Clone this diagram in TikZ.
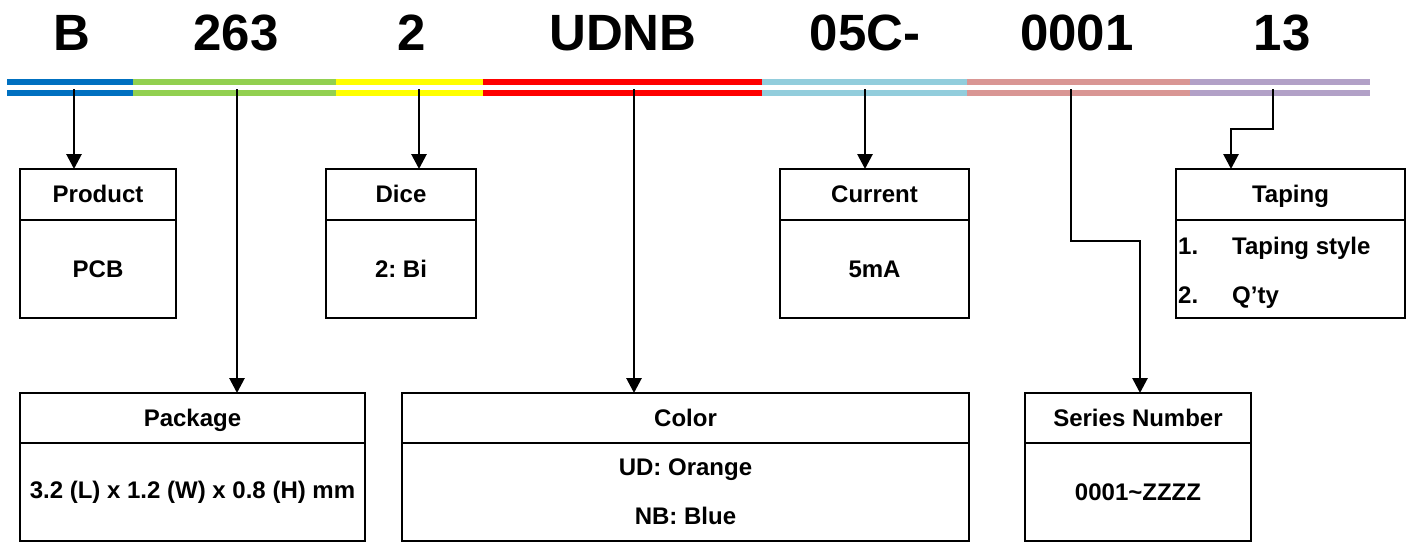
\documentclass[tikz,border=0pt]{standalone}
\usepackage{fontspec}
\setmainfont{Liberation Sans}
\usetikzlibrary{arrows.meta, positioning}

\definecolor{barblue}{HTML}{0070C0}
\definecolor{bargreen}{HTML}{92D050}
\definecolor{baryellow}{HTML}{FFFF00}
\definecolor{barred}{HTML}{FF0000}
\definecolor{barcyan}{HTML}{92CDDC}
\definecolor{barpink}{HTML}{D99694}
\definecolor{barpurple}{HTML}{B2A1C7}
\frenchspacing

\begin{document}
\begin{tikzpicture}[
    x=1pt, y=-1pt,
    >={Triangle[width=15pt,length=15pt]},
    font=\bfseries
  ]

  % Styles
  \tikzstyle{code}=[anchor=base, inner sep=0pt, font=\fontsize{51}{60}\selectfont\bfseries]
  \tikzstyle{head}=[draw, line width=2.8pt, outer sep=0pt, minimum height=51pt, text height=18pt, text depth=2pt, font=\fontsize{24}{28}\selectfont\bfseries]
  \tikzstyle{body}=[draw, line width=2.8pt, outer sep=0pt, minimum height=98pt, align=center, font=\fontsize{24}{49}\selectfont\bfseries]
  \tikzstyle{item}=[anchor=base west, inner sep=0pt, font=\fontsize{24}{28}\selectfont\bfseries]
  \tikzstyle{bar}=[line width=6pt]
  \tikzstyle{link}=[line width=2.8pt, ->]

  \useasboundingbox (0,0) rectangle (1410,542);

  % Part number
  \node[code] (codeB) at (72,50) {B};
  \node[code] (code263) at (236,50) {263};
  \node[code] (code2) at (412,50) {2};
  \node[code] (codeUDNB) at (623,50) {UDNB};
  \node[code] (code05C) at (865,50) {05C-};
  \node[code] (code0001) at (1077,50) {0001};
  \node[code] (code13) at (1282,50) {13};

  % Colour bars
  \foreach \y in {82,93} {
    \draw[bar, barblue] (7,\y) -- (133,\y);
    \draw[bar, bargreen] (133,\y) -- (336,\y);
    \draw[bar, baryellow] (336,\y) -- (483,\y);
    \draw[bar, barred] (483,\y) -- (762,\y);
    \draw[bar, barcyan] (762,\y) -- (967,\y);
    \draw[bar, barpink] (967,\y) -- (1190,\y);
    \draw[bar, barpurple] (1190,\y) -- (1370,\y);
  }

  % Taps on the bar
  \coordinate (tapB) at (74,89);
  \coordinate (tap263) at (237,89);
  \coordinate (tap2) at (419,89);
  \coordinate (tapUDNB) at (634,89);
  \coordinate (tap05C) at (865,89);
  \coordinate (tap0001) at (1071,89);
  \coordinate (tap13) at (1273,89);

  % Upper boxes
  \node[head, minimum width=156pt, anchor=north west] (prodhead) at (20,169) {Product};
  \node[body, minimum width=156pt, below=0pt of prodhead] (prodbody) {PCB};

  \node[head, minimum width=150pt, anchor=north west] (dicehead) at (326,169) {Dice};
  \node[body, minimum width=150pt, below=0pt of dicehead] (dicebody) {2: Bi};

  \node[head, minimum width=189pt, anchor=north west] (currhead) at (780,169) {Current};
  \node[body, minimum width=189pt, below=0pt of currhead] (currbody) {5mA};

  \node[head, minimum width=229pt, anchor=north west] (tapehead) at (1176,169) {Taping};
  \node[body, minimum width=229pt, below=0pt of tapehead] (tapebody) {};
  \node[item] (tapeA) at (1178,254.5) {\makebox[54pt][l]{1.}Taping style};
  \node[item] (tapeB) at (1178,303.5) {\makebox[54pt][l]{2.}Q’ty};

  % Lower boxes
  \node[head, minimum width=345pt, minimum height=50pt, anchor=north west] (packhead) at (20,393) {Package};
  \node[body, minimum width=345pt, below=0pt of packhead] (packbody) {3.2 (L) x 1.2 (W) x 0.8 (H) mm};

  \node[head, minimum width=567pt, minimum height=50pt, anchor=north west] (colhead) at (402,393) {Color};
  \node[body, minimum width=567pt, below=0pt of colhead] (colbody) {UD: Orange\\NB: Blue};

  \node[head, minimum width=226pt, minimum height=50pt, anchor=north west] (serhead) at (1025,393) {Series Number};
  \node[body, minimum width=226pt, below=0pt of serhead] (serbody) {0001\textasciitilde ZZZZ};

  % Arrows from bar to boxes
  \draw[link] (tapB) -- (tapB |- prodhead.north);
  \draw[link] (tap263) -- (tap263 |- packhead.north);
  \draw[link] (tap2) -- (tap2 |- dicehead.north);
  \draw[link] (tapUDNB) -- (tapUDNB |- colhead.north);
  \draw[link] (tap05C) -- (tap05C |- currhead.north);

  \coordinate (serknee) at (1140,241);
  \draw[link] (tap0001) |- (serknee) -- (serknee |- serhead.north);
  \coordinate (tapeknee) at (1231,129);
  \draw[link] (tap13) |- (tapeknee) -- (tapeknee |- tapehead.north);

\end{tikzpicture}
\end{document}
